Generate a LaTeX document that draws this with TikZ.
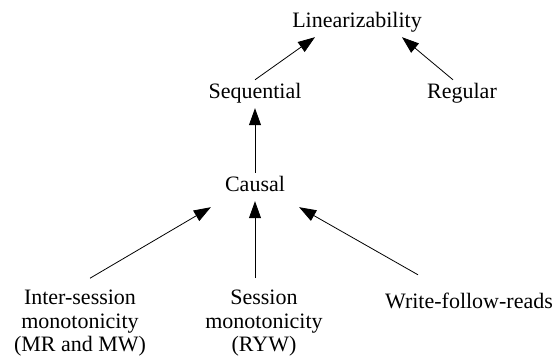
\documentclass[tikz,border=0pt]{standalone}
\usepackage{fontspec}
\setmainfont{Liberation Serif}
\usetikzlibrary{arrows.meta}
\tikzset{
  cons/.style={anchor=base, inner sep=4pt, text height=15pt, text depth=5pt,
               font=\fontsize{22}{23.5}\selectfont},
  multi/.style={cons, align=center, text height=, text depth=},
  implies/.style={-{Triangle[length=17pt,width=12pt]}, line width=0.8pt}
}
\begin{document}
\begin{tikzpicture}[x=1pt,y=1pt]
   \useasboundingbox (0,0) rectangle (555,358);
   % models
   \node[cons]  (lin)    at (357,330) {Linearizability};
   \node[cons]  (seq)    at (255,259) {Sequential};
   \node[cons]  (reg)    at (462,259) {Regular};
   \node[cons]  (causal) at (255,166) {Causal};
   \node[multi] (inter)  at (80,6)    {Inter-session\\monotonicity\\(MR and MW)};
   \node[multi] (sess)   at (264,6)   {Session\\monotonicity\\(RYW)};
   \node[cons]  (wfr)    at (469,49)  {Write-follow-reads};
   % implications
   \draw[implies] (seq.north) -- ([xshift=-42pt]lin.south);
   \draw[implies] ([xshift=-9pt]reg.north) -- ([xshift=45pt]lin.south);
   \draw[implies] (causal.north) -- (seq.south);
   \draw[implies] ([xshift=10pt,yshift=8pt]inter.north) -- ([xshift=-10pt,yshift=-6pt]causal.south west);
   \draw[implies] ([yshift=8pt]sess.north -| causal.south) -- (causal.south);
   \draw[implies] ([xshift=-51pt,yshift=15pt]wfr.north) -- ([xshift=10pt,yshift=-6pt]causal.south east);
\end{tikzpicture}
\end{document}
